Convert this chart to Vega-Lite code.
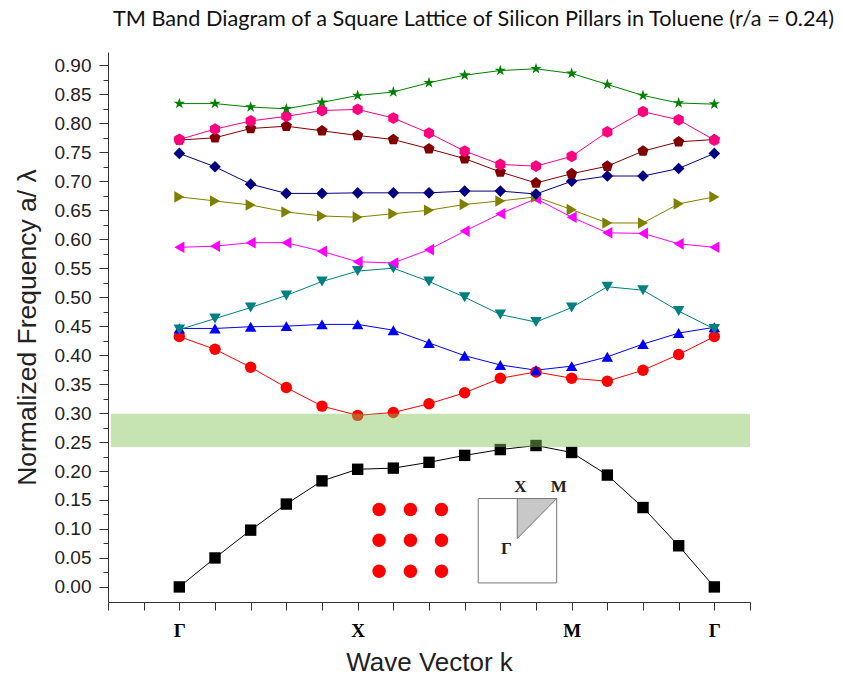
{
  "$schema": "https://vega.github.io/schema/vega-lite/v6.json",
  "autosize": {"type": "none"},
  "padding": {"left": 108, "top": 52, "right": 93, "bottom": 84},
  "width": 642,
  "height": 550,
  "background": "white",
  "title": {
    "text": "TM Band Diagram of a Square Lattice of Silicon Pillars in Toluene (r/a = 0.24)",
    "anchor": "start",
    "frame": "group",
    "dx": 5,
    "offset": 21,
    "font": "Lato",
    "fontSize": 21.7,
    "fontWeight": "normal",
    "color": "#111"
  },
  "config": {
    "view": {"stroke": null},
    "axis": {"grid": false, "domainColor": "#333", "tickColor": "#333", "labelColor": "#222", "titleColor": "#222"}
  },
  "datasets": {
    "bands": [
      {"band":"b01","k":0,"f":0.000},{"band":"b01","k":1,"f":0.050},{"band":"b01","k":2,"f":0.098},{"band":"b01","k":3,"f":0.143},{"band":"b01","k":4,"f":0.183},{"band":"b01","k":5,"f":0.203},{"band":"b01","k":6,"f":0.205},{"band":"b01","k":7,"f":0.215},{"band":"b01","k":8,"f":0.227},{"band":"b01","k":9,"f":0.237},{"band":"b01","k":10,"f":0.244},{"band":"b01","k":11,"f":0.232},{"band":"b01","k":12,"f":0.193},{"band":"b01","k":13,"f":0.137},{"band":"b01","k":14,"f":0.071},{"band":"b01","k":15,"f":0.000},
      {"band":"b02","k":0,"f":0.432},{"band":"b02","k":1,"f":0.410},{"band":"b02","k":2,"f":0.379},{"band":"b02","k":3,"f":0.344},{"band":"b02","k":4,"f":0.312},{"band":"b02","k":5,"f":0.296},{"band":"b02","k":6,"f":0.301},{"band":"b02","k":7,"f":0.316},{"band":"b02","k":8,"f":0.335},{"band":"b02","k":9,"f":0.360},{"band":"b02","k":10,"f":0.371},{"band":"b02","k":11,"f":0.360},{"band":"b02","k":12,"f":0.355},{"band":"b02","k":13,"f":0.374},{"band":"b02","k":14,"f":0.401},{"band":"b02","k":15,"f":0.432},
      {"band":"b03","k":0,"f":0.446},{"band":"b03","k":1,"f":0.446},{"band":"b03","k":2,"f":0.449},{"band":"b03","k":3,"f":0.450},{"band":"b03","k":4,"f":0.453},{"band":"b03","k":5,"f":0.453},{"band":"b03","k":6,"f":0.443},{"band":"b03","k":7,"f":0.421},{"band":"b03","k":8,"f":0.399},{"band":"b03","k":9,"f":0.383},{"band":"b03","k":10,"f":0.374},{"band":"b03","k":11,"f":0.381},{"band":"b03","k":12,"f":0.397},{"band":"b03","k":13,"f":0.419},{"band":"b03","k":14,"f":0.438},{"band":"b03","k":15,"f":0.448},
      {"band":"b04","k":0,"f":0.444},{"band":"b04","k":1,"f":0.463},{"band":"b04","k":2,"f":0.482},{"band":"b04","k":3,"f":0.503},{"band":"b04","k":4,"f":0.527},{"band":"b04","k":5,"f":0.545},{"band":"b04","k":6,"f":0.550},{"band":"b04","k":7,"f":0.527},{"band":"b04","k":8,"f":0.500},{"band":"b04","k":9,"f":0.470},{"band":"b04","k":10,"f":0.457},{"band":"b04","k":11,"f":0.482},{"band":"b04","k":12,"f":0.518},{"band":"b04","k":13,"f":0.512},{"band":"b04","k":14,"f":0.476},{"band":"b04","k":15,"f":0.445},
      {"band":"b05","k":0,"f":0.586},{"band":"b05","k":1,"f":0.588},{"band":"b05","k":2,"f":0.594},{"band":"b05","k":3,"f":0.594},{"band":"b05","k":4,"f":0.579},{"band":"b05","k":5,"f":0.561},{"band":"b05","k":6,"f":0.559},{"band":"b05","k":7,"f":0.582},{"band":"b05","k":8,"f":0.614},{"band":"b05","k":9,"f":0.644},{"band":"b05","k":10,"f":0.670},{"band":"b05","k":11,"f":0.638},{"band":"b05","k":12,"f":0.611},{"band":"b05","k":13,"f":0.610},{"band":"b05","k":14,"f":0.592},{"band":"b05","k":15,"f":0.586},
      {"band":"b06","k":0,"f":0.673},{"band":"b06","k":1,"f":0.666},{"band":"b06","k":2,"f":0.659},{"band":"b06","k":3,"f":0.647},{"band":"b06","k":4,"f":0.640},{"band":"b06","k":5,"f":0.638},{"band":"b06","k":6,"f":0.644},{"band":"b06","k":7,"f":0.650},{"band":"b06","k":8,"f":0.660},{"band":"b06","k":9,"f":0.666},{"band":"b06","k":10,"f":0.673},{"band":"b06","k":11,"f":0.651},{"band":"b06","k":12,"f":0.628},{"band":"b06","k":13,"f":0.628},{"band":"b06","k":14,"f":0.661},{"band":"b06","k":15,"f":0.673},
      {"band":"b07","k":0,"f":0.748},{"band":"b07","k":1,"f":0.725},{"band":"b07","k":2,"f":0.695},{"band":"b07","k":3,"f":0.679},{"band":"b07","k":4,"f":0.679},{"band":"b07","k":5,"f":0.680},{"band":"b07","k":6,"f":0.680},{"band":"b07","k":7,"f":0.680},{"band":"b07","k":8,"f":0.683},{"band":"b07","k":9,"f":0.683},{"band":"b07","k":10,"f":0.678},{"band":"b07","k":11,"f":0.700},{"band":"b07","k":12,"f":0.709},{"band":"b07","k":13,"f":0.709},{"band":"b07","k":14,"f":0.722},{"band":"b07","k":15,"f":0.748},
      {"band":"b08","k":0,"f":0.771},{"band":"b08","k":1,"f":0.775},{"band":"b08","k":2,"f":0.791},{"band":"b08","k":3,"f":0.795},{"band":"b08","k":4,"f":0.787},{"band":"b08","k":5,"f":0.779},{"band":"b08","k":6,"f":0.772},{"band":"b08","k":7,"f":0.756},{"band":"b08","k":8,"f":0.739},{"band":"b08","k":9,"f":0.716},{"band":"b08","k":10,"f":0.697},{"band":"b08","k":11,"f":0.713},{"band":"b08","k":12,"f":0.726},{"band":"b08","k":13,"f":0.752},{"band":"b08","k":14,"f":0.768},{"band":"b08","k":15,"f":0.772},
      {"band":"b09","k":0,"f":0.772},{"band":"b09","k":1,"f":0.790},{"band":"b09","k":2,"f":0.804},{"band":"b09","k":3,"f":0.812},{"band":"b09","k":4,"f":0.822},{"band":"b09","k":5,"f":0.824},{"band":"b09","k":6,"f":0.809},{"band":"b09","k":7,"f":0.783},{"band":"b09","k":8,"f":0.752},{"band":"b09","k":9,"f":0.729},{"band":"b09","k":10,"f":0.726},{"band":"b09","k":11,"f":0.743},{"band":"b09","k":12,"f":0.785},{"band":"b09","k":13,"f":0.820},{"band":"b09","k":14,"f":0.806},{"band":"b09","k":15,"f":0.771},
      {"band":"b10","k":0,"f":0.834},{"band":"b10","k":1,"f":0.834},{"band":"b10","k":2,"f":0.828},{"band":"b10","k":3,"f":0.825},{"band":"b10","k":4,"f":0.836},{"band":"b10","k":5,"f":0.848},{"band":"b10","k":6,"f":0.854},{"band":"b10","k":7,"f":0.870},{"band":"b10","k":8,"f":0.883},{"band":"b10","k":9,"f":0.891},{"band":"b10","k":10,"f":0.894},{"band":"b10","k":11,"f":0.886},{"band":"b10","k":12,"f":0.867},{"band":"b10","k":13,"f":0.848},{"band":"b10","k":14,"f":0.835},{"band":"b10","k":15,"f":0.833}
    ],
    "gap": [{"k": -1.92, "k2": 16, "f": 0.2415, "f2": 0.299}],
    "cell": [{"k": 8.38, "k2": 10.58, "f": 0.0069, "f2": 0.1525}],
    "wedge": [{"k": 9.475, "f": 0.0835, "f2": 0.1525}, {"k": 10.58, "f": 0.1525, "f2": 0.1525}],
    "cellLabels": [{"k": 9.56, "f": 0.172, "t": "X"}, {"k": 10.64, "f": 0.172, "t": "M"}, {"k": 9.17, "f": 0.066, "t": "Γ"}],
    "pillars": [
      {"k": 5.60, "f": 0.1335}, {"k": 6.48, "f": 0.1335}, {"k": 7.35, "f": 0.1335},
      {"k": 5.60, "f": 0.0805}, {"k": 6.48, "f": 0.0805}, {"k": 7.35, "f": 0.0805},
      {"k": 5.60, "f": 0.027}, {"k": 6.48, "f": 0.027}, {"k": 7.35, "f": 0.027}
    ]
  },
  "encoding": {
    "x": {
      "field": "k", "type": "quantitative",
      "scale": {"domain": [-2, 16], "nice": false, "zero": false},
      "axis": {
        "values": [-2,-1,0,1,2,3,4,5,6,7,8,9,10,11,12,13,14,15,16],
        "labelExpr": "datum.value == 0 || datum.value == 15 ? 'Γ' : datum.value == 5 ? 'X' : datum.value == 11 ? 'M' : ''",
        "labelFont": "Liberation Serif", "labelFontWeight": "bold", "labelFontSize": 19, "labelColor": "#000",
        "labelOverlap": false, "labelBound": false, "labelFlush": false, "labelAngle": 0,
        "tickSize": 8, "labelPadding": 11,
        "title": "Wave Vector k", "titleFont": "Liberation Sans", "titleFontSize": 26, "titleFontWeight": "normal", "titlePadding": 9
      }
    }
  },
  "layer": [
    {
      "data": {"name": "bands"},
      "mark": {"type": "line", "strokeWidth": 1},
      "encoding": {
        "y": {
          "field": "f", "type": "quantitative",
          "scale": {"domain": [-0.026, 0.923], "nice": false, "zero": false},
          "axis": {
            "orient": "left",
            "values": [0,0.05,0.1,0.15,0.2,0.25,0.3,0.35,0.4,0.45,0.5,0.55,0.6,0.65,0.7,0.75,0.8,0.85,0.9],
            "format": ".2f", "labelFont": "Liberation Sans", "labelFontSize": 19, "tickSize": 9, "labelPadding": 8,
            "title": "Normalized Frequency a/ λ", "titleFont": "Liberation Sans", "titleFontSize": 26.5, "titleFontWeight": "normal", "titlePadding": 13
          }
        },
        "color": {
          "field": "band", "type": "nominal", "legend": null,
          "scale": {"domain": ["b01","b02","b03","b04","b05","b06","b07","b08","b09","b10"],
                    "range": ["#000000","#FF0000","#0000FF","#008080","#FF00FF","#808000","#000080","#800000","#FF0080","#008000"]}
        },
        "detail": {"field": "band"}
      }
    },
    {
      "data": {"name": "bands"},
      "mark": {"type": "point", "filled": true, "opacity": 1},
      "encoding": {
        "y": {"field": "f", "type": "quantitative", "scale": {"domain": [-0.026, 0.923], "nice": false, "zero": false}, "axis": null},
        "color": {"field": "band", "type": "nominal", "legend": null},
        "shape": {
          "field": "band", "type": "nominal", "legend": null,
          "scale": {"domain": ["b01","b02","b03","b04","b05","b06","b07","b08","b09","b10"],
                    "range": ["square","circle","triangle-up","triangle-down","triangle-left","triangle-right","diamond",
                              "M0,-1L0.951,-0.309L0.588,0.809L-0.588,0.809L-0.951,-0.309Z",
                              "M0,-1L0.866,-0.5L0.866,0.5L0,1L-0.866,0.5L-0.866,-0.5Z",
                              "M0,-1L0.225,-0.309L0.951,-0.309L0.363,0.118L0.588,0.809L0,0.382L-0.588,0.809L-0.363,0.118L-0.951,-0.309L-0.225,-0.309Z"]}
        },
        "size": {
          "field": "band", "type": "nominal", "legend": null,
          "scale": {"domain": ["b01","b02","b03","b04","b05","b06","b07","b08","b09","b10"],
                    "range": [130, 140, 150, 150, 150, 150, 150, 190, 180, 230]}
        }
      }
    },
    {
      "data": {"name": "gap"},
      "mark": {"type": "rect", "color": "#82C457", "opacity": 0.46},
      "encoding": {
        "x2": {"field": "k2"},
        "y": {
          "field": "f", "type": "quantitative",
          "scale": {"domain": [-0.026, 0.923], "nice": false, "zero": false},
          "axis": {
            "orient": "left",
            "values": [0.025,0.075,0.125,0.175,0.225,0.275,0.325,0.375,0.425,0.475,0.525,0.575,0.625,0.675,0.725,0.775,0.825,0.875],
            "labels": false, "domain": false, "tickSize": 5, "title": null
          }
        },
        "y2": {"field": "f2"}
      }
    },
    {
      "data": {"name": "cell"},
      "mark": {"type": "rect", "fill": "white", "stroke": "#777", "strokeWidth": 1},
      "encoding": {
        "x2": {"field": "k2"},
        "y": {"field": "f", "type": "quantitative", "scale": {"domain": [-0.026, 0.923], "nice": false, "zero": false}, "axis": null},
        "y2": {"field": "f2"}
      }
    },
    {
      "data": {"name": "wedge"},
      "mark": {"type": "area", "fill": "#C8C8C8", "stroke": "#777", "strokeWidth": 1},
      "encoding": {
        "y": {"field": "f", "type": "quantitative", "scale": {"domain": [-0.026, 0.923], "nice": false, "zero": false}, "axis": null},
        "y2": {"field": "f2"}
      }
    },
    {
      "data": {"name": "cellLabels"},
      "mark": {"type": "text", "font": "Liberation Serif", "fontWeight": "bold", "fontSize": 17, "color": "#222"},
      "encoding": {
        "y": {"field": "f", "type": "quantitative", "scale": {"domain": [-0.026, 0.923], "nice": false, "zero": false}, "axis": null},
        "text": {"field": "t"}
      }
    },
    {
      "data": {"name": "pillars"},
      "mark": {"type": "point", "shape": "circle", "filled": true, "color": "#FF0000", "opacity": 1, "size": 180},
      "encoding": {
        "y": {"field": "f", "type": "quantitative", "scale": {"domain": [-0.026, 0.923], "nice": false, "zero": false}, "axis": null}
      }
    }
  ],
  "resolve": {"axis": {"y": "independent"}}
}
